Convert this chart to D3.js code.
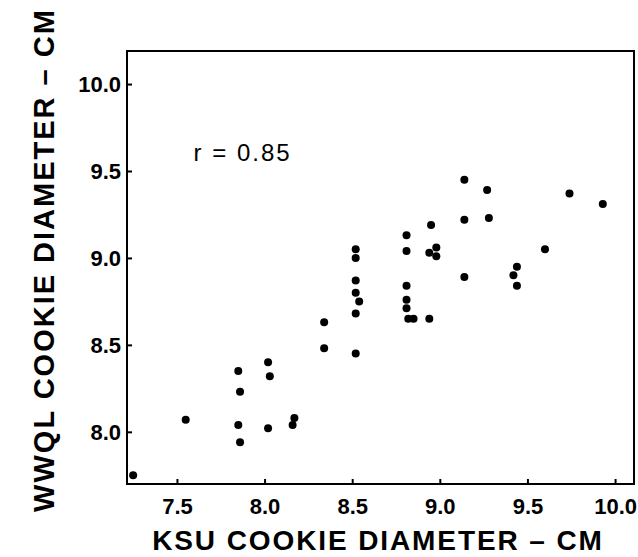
<!DOCTYPE html>
<html>
<head>
<meta charset="utf-8">
<script src="https://cdn.jsdelivr.net/npm/d3@7"></script>
<style>
  body { margin: 0; background: #fff; }
  svg { display: block; font-family: "Liberation Sans", Arial, sans-serif; }
</style>
</head>
<body>
<div id="chart"></div>
<script>
// KSU vs WWQL cookie diameters (cm)
const ksu = [
  7.25, 7.55, 7.85, 7.86, 7.85, 7.86, 8.02, 8.03, 8.02, 8.17, 8.16,
  8.34, 8.34,
  8.52, 8.52, 8.52, 8.52, 8.54, 8.52, 8.52,
  8.81, 8.81, 8.81, 8.81, 8.81, 8.82, 8.85, 8.94,
  8.95, 8.94, 8.98, 8.98,
  9.14, 9.14, 9.14, 9.27, 9.28,
  9.42, 9.44, 9.44, 9.60, 9.74, 9.93
];
const wwql = [
  7.75, 8.07, 8.35, 8.23, 8.04, 7.94, 8.40, 8.32, 8.02, 8.08, 8.04,
  8.63, 8.48,
  9.05, 9.00, 8.87, 8.80, 8.75, 8.68, 8.45,
  9.13, 9.04, 8.84, 8.76, 8.71, 8.65, 8.65, 8.65,
  9.19, 9.03, 9.06, 9.01,
  9.45, 9.22, 8.89, 9.39, 9.23,
  8.90, 8.95, 8.84, 9.05, 9.37, 9.31
];
const xTicks = [7.5, 8.0, 8.5, 9.0, 9.5, 10.0];
const yTicks = [8.0, 8.5, 9.0, 9.5, 10.0];
const rLabel = "r = 0.85";

const width = 638, height = 557;
const margin = { top: 51, right: 4, bottom: 73, left: 127 };
const innerW = width - margin.left - margin.right;
const innerH = height - margin.top - margin.bottom;

const svg = d3.select('#chart').append('svg')
  .attr('width', width)
  .attr('height', height);

const g = svg.append('g')
  .attr('transform', `translate(${margin.left},${margin.top})`);

const x = d3.scaleLinear().domain([7.215, 10.108]).range([0, innerW]);
const y = d3.scaleLinear().domain([7.70, 10.19]).range([innerH, 0]);

// frame
g.append('rect')
  .attr('x', 0).attr('y', 0)
  .attr('width', innerW).attr('height', innerH)
  .attr('fill', 'none')
  .attr('stroke', '#000')
  .attr('stroke-width', 2);

const xAxis = g.append('g')
  .attr('transform', `translate(0,${innerH})`)
  .call(d3.axisBottom(x).tickValues(xTicks).tickFormat(d3.format('.1f'))
    .tickSizeInner(-5).tickSizeOuter(0).tickPadding(14));

const yAxis = g.append('g')
  .call(d3.axisLeft(y).tickValues(yTicks).tickFormat(d3.format('.1f'))
    .tickSizeInner(-5).tickSizeOuter(0).tickPadding(6));

[xAxis, yAxis].forEach(ax => {
  ax.select('.domain').remove();
  ax.selectAll('.tick line').attr('stroke', '#000').attr('stroke-width', 2);
  ax.selectAll('.tick text')
    .attr('fill', '#000')
    .style('font-size', '22px')
    .style('font-weight', 'bold');
});
yAxis.selectAll('.tick text').attr('dy', '0.36em');

// points
g.selectAll('.dot')
  .data(ksu.map((d, i) => [d, wwql[i]]))
  .enter().append('circle')
  .attr('class', 'dot')
  .attr('cx', d => x(d[0]))
  .attr('cy', d => y(d[1]))
  .attr('r', 4)
  .attr('fill', '#000');

// correlation annotation
g.append('text')
  .attr('x', x(7.595))
  .attr('y', y(9.56))
  .style('font-size', '24px')
  .style('letter-spacing', '2px')
  .text(rLabel);

// axis titles
svg.append('text')
  .attr('x', 378)
  .attr('y', 550)
  .attr('text-anchor', 'middle')
  .style('font-size', '28px')
  .style('font-weight', 'bold')
  .style('letter-spacing', '1.9px')
  .text('KSU COOKIE DIAMETER – CM');

svg.append('text')
  .attr('transform', 'translate(54,260) rotate(-90)')
  .attr('text-anchor', 'middle')
  .style('font-size', '29px')
  .style('font-weight', 'bold')
  .style('letter-spacing', '2px')
  .text('WWQL COOKIE DIAMETER – CM');
</script>
</body>
</html>
